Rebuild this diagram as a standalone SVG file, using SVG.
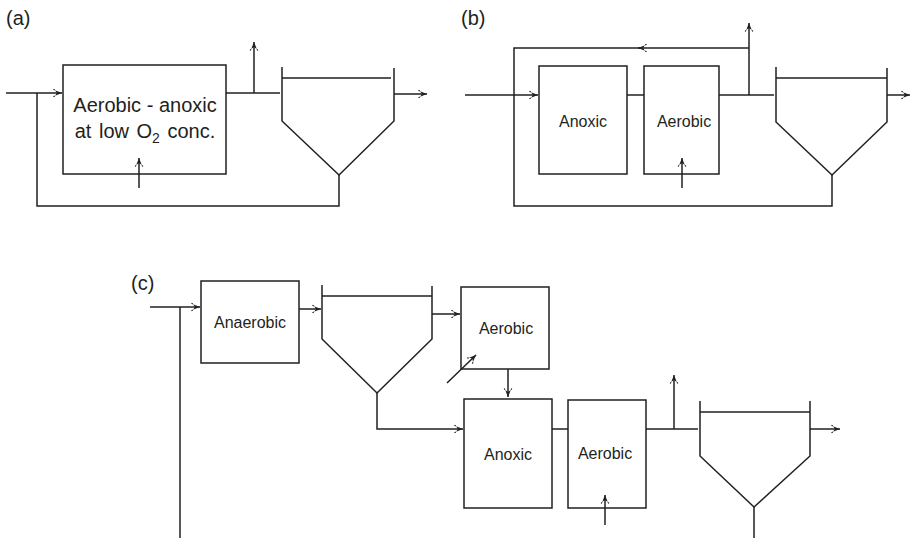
<svg xmlns="http://www.w3.org/2000/svg" width="911" height="538" viewBox="0 0 911 538">
<style>
.ln{fill:none;stroke:#231f20;stroke-width:1.5}
.bx{fill:#fff;stroke:#231f20;stroke-width:1.5}
.lbl{font-family:"Liberation Sans",Arial,sans-serif;fill:#231f20}
.pl{font-size:20px}
.nd{font-size:16px;text-anchor:middle}
.big{font-size:20px;text-anchor:middle}
.arr{marker-end:url(#ah)}
</style>
<defs>
<marker id="ah" markerUnits="userSpaceOnUse" markerWidth="12" markerHeight="12" viewBox="-9 -6 12 12" refX="0" refY="0" orient="auto">
<path d="M0,0 L-7,-2.8 L-5,0 L-7,2.8 Z" fill="#231f20"/>
<path d="M-8.5,-3.8 L-7.2,-3 M-8.5,3.8 L-7.2,3" stroke="#231f20" stroke-width="1.2"/>
</marker>
</defs>
<rect width="911" height="538" fill="#fff"/>

<!-- panel labels -->
<text class="lbl pl" x="6" y="25">(a)</text>
<text class="lbl pl" x="461" y="25">(b)</text>
<text class="lbl pl" x="131" y="290">(c)</text>

<!-- Panel (a) -->
<g id="a-reactor">
<rect class="bx" x="63" y="65" width="163" height="109"/>
<text class="lbl big" x="145" y="112">Aerobic - anoxic</text>
<text class="lbl big" x="145" y="138" word-spacing="2">at low O<tspan font-size="14" dy="5">2</tspan><tspan dy="-5"> conc.</tspan></text>
</g>
<g id="a-clarifier">
<path class="ln" d="M282,67 V121 L339,175 L394,121 V68 M282,78 H391"/>
</g>

<!-- Panel (b) -->
<g id="b-anoxic">
<rect class="bx" x="539" y="66" width="88" height="108"/>
<text class="lbl nd" x="583" y="127">Anoxic</text>
</g>
<g id="b-aerobic">
<rect class="bx" x="644" y="66" width="75" height="108"/>
<text class="lbl nd" x="684" y="127">Aerobic</text>
</g>
<g id="b-clarifier">
<path class="ln" d="M776,67 V122 L832,175 L887,122 V68 M776,78 H887"/>
</g>

<!-- Panel (c) -->
<g id="c-anaerobic">
<rect class="bx" x="201" y="281" width="98" height="82"/>
<text class="lbl nd" x="250" y="328">Anaerobic</text>
</g>
<g id="c-clarifier1">
<path class="ln" d="M322,285 V339 L377,393 L432,339 V286 M322,296 H432"/>
</g>
<g id="c-aerobic1">
<rect class="bx" x="461" y="287" width="88" height="82"/>
<text class="lbl nd" x="506" y="334">Aerobic</text>
</g>
<g id="c-anoxic">
<rect class="bx" x="464" y="399" width="88" height="109"/>
<text class="lbl nd" x="508" y="460">Anoxic</text>
</g>
<g id="c-aerobic2">
<rect class="bx" x="568" y="400" width="78" height="108"/>
<text class="lbl nd" x="605" y="459">Aerobic</text>
</g>
<g id="c-clarifier2">
<path class="ln" d="M700,401 V456 L754,507 L810,456 V401 M700,412 H810"/>
</g>

<g id="connectors">
<!-- (a) -->
<path class="ln arr" d="M6,93 H62"/>
<path class="ln" d="M37,93 V206 H339 V175"/>
<path class="ln" d="M226,93 H280"/>
<path class="ln arr" d="M254,93 V42"/>
<path class="ln arr" d="M394,94 H427"/>
<path class="ln arr" d="M139,188 V158"/>
<!-- (b) -->
<path class="ln arr" d="M465,95 H538"/>
<path class="ln" d="M627,95 H644"/>
<path class="ln" d="M719,95 H774"/>
<path class="ln arr" d="M749,95 V23"/>
<path class="ln arr" d="M749,48 H638"/>
<path class="ln" d="M640,48 H514 V206 H832 V175"/>
<path class="ln arr" d="M887,95 H910"/>
<path class="ln arr" d="M682,188 V158"/>
<!-- (c) -->
<path class="ln arr" d="M150,307 H200"/>
<path class="ln" d="M180,307 V538"/>
<path class="ln arr" d="M299,309 H321"/>
<path class="ln arr" d="M432,314 H460"/>
<path class="ln" d="M377,393 V429 H440"/>
<path class="ln arr" d="M440,429 H463"/>
<path class="ln arr" d="M447,383 L476,355"/>
<path class="ln arr" d="M508,369 V397"/>
<path class="ln" d="M552,429 H568"/>
<path class="ln" d="M646,429 H698"/>
<path class="ln arr" d="M674,429 V375"/>
<path class="ln arr" d="M810,429 H840"/>
<path class="ln arr" d="M605,525 V495"/>
<path class="ln" d="M754,507 V538"/>
</g>
</svg>
